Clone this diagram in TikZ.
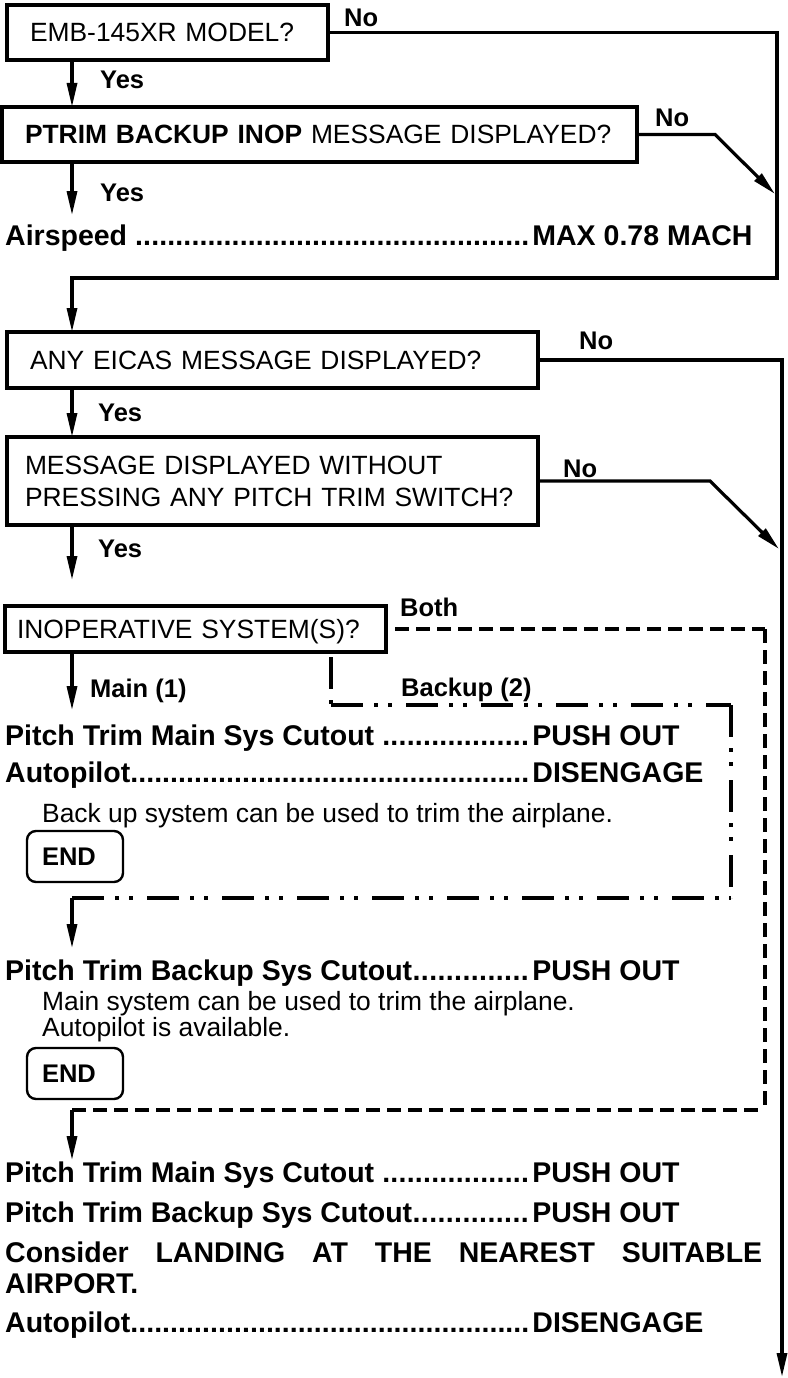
\documentclass[tikz,border=0pt]{standalone}
\usepackage{fontspec}
\setmainfont{Liberation Sans}
\usetikzlibrary{arrows.meta}
\newcommand\fsreg{\fontsize{26.4pt}{32pt}\selectfont}
\newcommand\fsnote{\fontsize{26.4pt}{26pt}\selectfont}
\newcommand\fsbold{\fontsize{28.5pt}{31pt}\selectfont\bfseries}
\newcommand\fslbl{\fontsize{25.5pt}{30pt}\selectfont\bfseries}
\newcommand\procline[2]{\hbox to 527pt{#1\xleaders\hbox{.}\hfill\kern3pt}#2}
\begin{document}
\begin{tikzpicture}[x=1pt,y=-1pt,
 qbox/.style={draw, line width=3.2pt, outer sep=0pt, inner ysep=0pt, anchor=north west, align=left, font=\fsreg},
 lbl/.style={font=\fslbl, inner sep=0pt, anchor=base west},
 proc/.style={font=\fsbold, inner xsep=0pt, inner ysep=0pt, anchor=base west},
 note/.style={font=\fsnote, inner sep=0pt, anchor=base west, align=left},
 endbox/.style={draw, line width=2.4pt, rounded corners=9pt, outer sep=0pt, anchor=north west, minimum width=96pt, minimum height=51pt, text width=66pt, inner xsep=15pt, inner ysep=0pt, align=left, font=\fslbl},
 conn/.style={line width=3.2pt},
 arr/.style={conn, -{Triangle[length=24pt,width=10pt]}},
 dline/.style={line width=3.2pt, dash pattern=on 14pt off 7pt},
 ddline/.style={line width=3.2pt, dash pattern=on 32pt off 11pt on 4pt off 10pt on 4pt off 14pt},
]
\fill[white] (0,0) rectangle (787,1378);
\useasboundingbox (0,0) rectangle (787,1378);

% question boxes
\node[qbox, text width=275pt, inner xsep=23pt, minimum height=55pt] (q1) at (7,5) {EMB-145XR MODEL?};
\node[qbox, text width=589pt, inner xsep=23pt, minimum height=55pt] (q2) at (2,107) {\textbf{PTRIM BACKUP INOP} MESSAGE DISPLAYED?};
\node[qbox, text width=485pt, inner xsep=23pt, minimum height=56pt] (q3) at (7,332) {ANY EICAS MESSAGE DISPLAYED?};
\node[qbox, text width=495pt, inner xsep=18pt, minimum height=88pt] (q4) at (7,437) {MESSAGE DISPLAYED WITHOUT\\PRESSING ANY PITCH TRIM SWITCH?};
\node[qbox, text width=357pt, inner xsep=12pt, minimum height=46pt, text depth=0pt] (q5) at (5,606) {INOPERATIVE SYSTEM(S)?};

% procedure lines
\node[proc, inner ysep=9pt] (p0) at (5,245) {\procline{Airspeed\ }{MAX 0.78 MACH}};
\node[proc, inner ysep=14pt] (p1) at (5,745) {\procline{Pitch Trim Main Sys Cutout\ }{PUSH OUT}};
\node[proc] (p2) at (5,782) {\procline{Autopilot}{DISENGAGE}};
\node[note] (n1) at (42,822) {Back up system can be used to trim the airplane.};
\node[endbox] (e1) at (27,831) {END};
\node[proc, inner ysep=11pt] (p3) at (5,980) {\procline{Pitch Trim Backup Sys Cutout}{PUSH OUT}};
\node[note] (n2) at (42,1036) {Main system can be used to trim the airplane.\\Autopilot is available.};
\node[endbox] (e2) at (27,1048) {END};
\node[proc, inner ysep=1pt] (p4) at (5,1182) {\procline{Pitch Trim Main Sys Cutout\ }{PUSH OUT}};
\node[proc] (p5) at (5,1222) {\procline{Pitch Trim Backup Sys Cutout}{PUSH OUT}};
\node[proc, align=left] (p6) at (5,1293) {\makebox[757pt][s]{Consider LANDING AT THE NEAREST SUITABLE}\\AIRPORT.};
\node[proc] (p7) at (5,1332) {\procline{Autopilot}{DISENGAGE}};

% labels
\node[lbl] (l1) at (344,27) {No};
\node[lbl] (l2) at (100,89) {Yes};
\node[lbl] (l3) at (655,127) {No};
\node[lbl] (l4) at (100,201) {Yes};
\node[lbl] (l5) at (579,349) {No};
\node[lbl] (l6) at (98,421) {Yes};
\node[lbl] (l7) at (563,477) {No};
\node[lbl] (l8) at (98,557) {Yes};
\node[lbl] (l9) at (400,616) {Both};
\node[lbl] (l10) at (90,697) {Main (1)};
\node[lbl] (l11) at (401,696) {Backup (2)};

% helper coordinates
\coordinate (xl) at (72,0);
\coordinate (A1) at (777,278);
\coordinate (A2) at (72,278);
\coordinate (B1) at (715,0);
\coordinate (B2) at (775,194);
\coordinate (M) at (782,0);
\coordinate (Mend) at (782,1377);
\coordinate (C1) at (710,0);
\coordinate (C2) at (779,549);
\coordinate (Dx) at (765,0);
\coordinate (Dc) at (765,1110);
\coordinate (Dl) at (72,1110);
\coordinate (Bx) at (331,0);
\coordinate (Bc1) at (331,705);
\coordinate (Bc2) at (731,705);
\coordinate (Bc3) at (731,898);
\coordinate (Bl) at (72,898);

% solid connectors
\draw[arr] (q1.south -| xl) -- (q2.north -| xl);
\draw[arr] (q2.south -| xl) -- (p0.north -| xl);
\draw[arr] (q1.east) -| (A1) -- (A2) -- (q3.north -| A2);
\draw[arr] (q2.east) -- (q2.east -| B1) -- (B2);
\draw[arr] (q3.south -| xl) -- (q4.north -| xl);
\draw[arr] (q3.east) -- (q3.east -| M) -- (Mend);
\draw[arr] (q4.east) -- (q4.east -| C1) -- (C2);
\draw[arr, shorten >=26pt] (q4.south -| xl) -- (q5.north -| xl);
\draw[arr] (q5.south -| xl) -- (p1.north -| xl);

% Both (dashed)
\draw[dline, shorten <=9pt] (q5.east) -- (q5.east -| Dx);
\draw[dline] (q5.east -| Dx) -- (Dc);
\draw[dline] (Dl) -- (Dc);
\draw[arr] (Dl) -- (p4.north -| Dl);

% Backup (dash-dot)
\draw[ddline, shorten <=5pt] (q5.south -| Bx) -- (Bc1);
\draw[ddline] (Bc1) -- (Bc2);
\draw[ddline] (Bc2) -- (Bc3);
\draw[ddline] (Bl) -- (Bc3);
\draw[arr] (Bl) -- (p3.north -| Bl);
\end{tikzpicture}
\end{document}
